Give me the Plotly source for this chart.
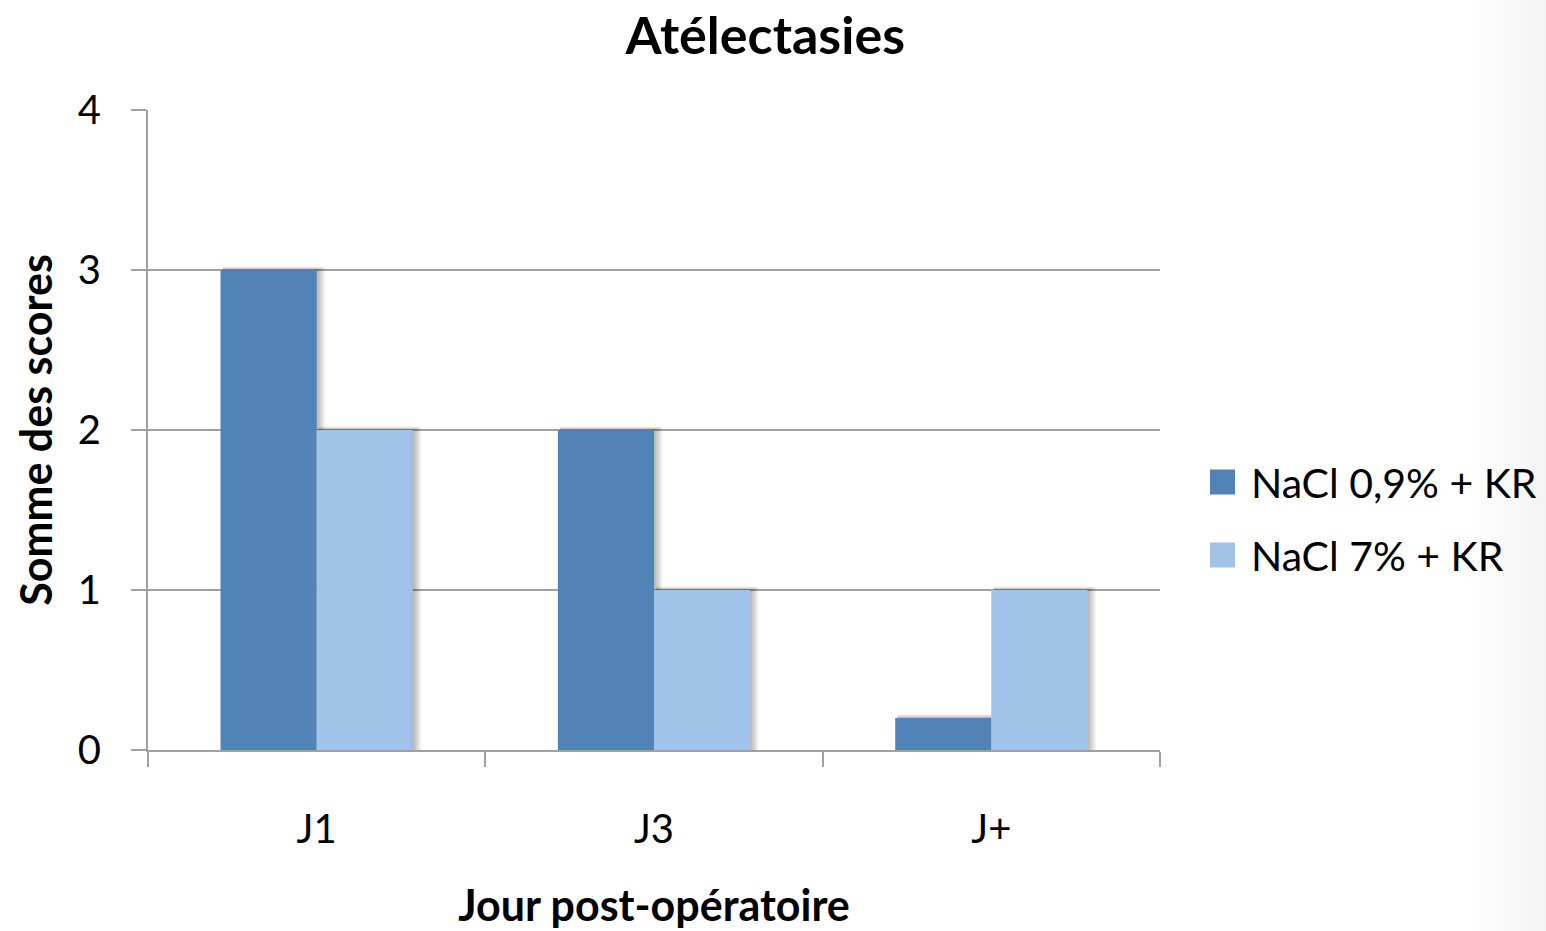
import plotly.graph_objects as go

# Données : somme des scores d'atélectasie par jour post-opératoire
jours = ["J1", "J3", "J+"]
nacl_09 = [3, 2, 0.2]
nacl_7 = [2, 1, 1]
series_names = ["NaCl 0,9% + KR", "NaCl 7% + KR"]
y_ticks = [0, 1, 2, 3, 4]

FONT = "Lato"
DARK = "#5183b7"
LIGHT = "#a1c2e9"
GRID = "#a0a0a0"

# géométrie de la zone de tracé (px)
W, H = 1546, 931
L, R, T, B = 148, 386, 110, 181
PW, PH = W - L - R, H - T - B
Y_MAX = 4
BARGAP = 0.43

fig = go.Figure()
colors = [DARK, LIGHT]
all_series = [nacl_09, nacl_7]
for name, vals, col in zip(series_names, all_series, colors):
    fig.add_trace(go.Bar(x=jours, y=vals, name=name, showlegend=False,
                         marker=dict(color=col, line=dict(width=0))))

# ombre portée douce derrière chaque barre
cat_px = PW / len(jours)
bar_w = (1 - BARGAP) / len(all_series)
px_x = 1 / cat_px
px_y = Y_MAX / PH
for k, vals in enumerate(all_series):
    for i, v in enumerate(vals):
        left = i - (1 - BARGAP) / 2 + k * bar_w
        right = left + bar_w
        for j in range(1, 8):
            fig.add_shape(type="rect", xref="x", yref="y", layer="between",
                          x0=left + 2 * px_x, x1=right + j * 1.2 * px_x,
                          y0=0, y1=v + j * 0.5 * px_y,
                          fillcolor="rgba(0,0,0,0.045)", line=dict(width=0))

# légende dessinée à droite
leg_x0 = (1210 - L) / PW
leg_sq = 25 / PW
leg_sq_y = 25 / PH
leg_rows_px = [482, 555]
for name, col, ypx in zip(series_names, colors, leg_rows_px):
    yc = (H - B - ypx) / PH
    fig.add_shape(type="rect", xref="paper", yref="paper",
                  x0=leg_x0, x1=leg_x0 + leg_sq,
                  y0=yc - leg_sq_y / 2, y1=yc + leg_sq_y / 2,
                  fillcolor=col, line=dict(width=0))
    fig.add_annotation(xref="paper", yref="paper", x=(1249 - L) / PW, y=yc,
                       xanchor="left", yanchor="middle", showarrow=False,
                       text=name, font=dict(family=FONT, size=41, color="black"))

# léger dégradé gris sur le bord droit
n_strips = 12
gx0 = (1470 - L) / PW
gx1 = (W + 5 - L) / PW
for i in range(n_strips):
    x0 = gx0 + i * (gx1 - gx0) / n_strips
    fig.add_shape(type="rect", xref="paper", yref="paper",
                  x0=x0, x1=gx1, y0=-0.3, y1=1.2,
                  fillcolor="rgba(0,0,0,0.004)", line=dict(width=0),
                  layer="below")

fig.update_layout(
    width=W, height=H,
    margin=dict(l=L, r=R, t=T, b=B),
    paper_bgcolor="white", plot_bgcolor="white",
    barmode="group", bargap=BARGAP, bargroupgap=0,
    showlegend=False,
    title=dict(text="<b>Atélectasies</b>", x=0.495, xanchor="center",
               y=1 - 36 / H, yanchor="middle",
               font=dict(family=FONT, size=52, color="black")),
    font=dict(family=FONT, color="black"),
    xaxis=dict(
        type="category", tickson="boundaries", automargin=False,
        showline=True, linecolor=GRID, linewidth=2,
        ticks="outside", ticklen=15, tickwidth=2, tickcolor=GRID,
        showgrid=False, ticklabelstandoff=43,
        tickfont=dict(family=FONT, size=40, color="black"),
        title=dict(text="<b>Jour post-opératoire</b>", standoff=40,
                   font=dict(family=FONT, size=43, color="black")),
    ),
    yaxis=dict(
        range=[0, Y_MAX], tickvals=y_ticks, automargin=False,
        showline=True, linecolor=GRID, linewidth=2,
        ticks="outside", ticklen=15, tickwidth=2, tickcolor=GRID,
        showgrid=True, gridcolor=GRID, gridwidth=2,
        zeroline=False, ticklabelstandoff=22,
        tickfont=dict(family=FONT, size=40, color="black"),
        title=dict(text="<b>Somme des scores</b>", standoff=12,
                   font=dict(family=FONT, size=43, color="black")),
    ),
)

fig.write_html("out.html")
